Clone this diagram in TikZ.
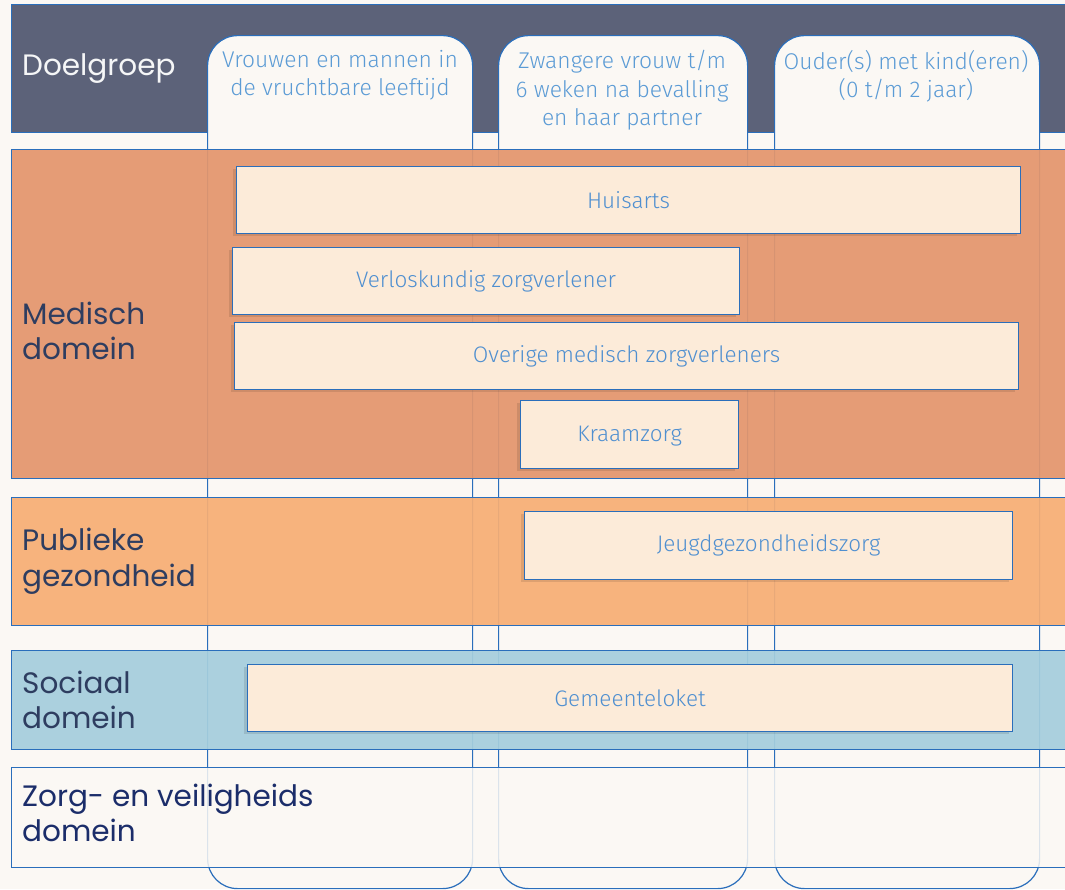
\documentclass[tikz,border=0pt]{standalone}
\usepackage{fontspec}
\setmainfont{Poppins}
\newfontfamily\lightfont{Fira Sans Light}
\usetikzlibrary{shadows}
\definecolor{bgc}{HTML}{FBF8F4}
\definecolor{slate}{HTML}{5C6279}
\definecolor{medc}{HTML}{E4966D}
\definecolor{pubc}{HTML}{F7AE74}
\definecolor{socc}{HTML}{A5CEDD}
\definecolor{boxc}{HTML}{FCEBD9}
\definecolor{edge}{HTML}{2A6EBB}
\definecolor{rowtxt}{HTML}{2E3D60}
\definecolor{zorgtxt}{HTML}{1B2D6A}
\definecolor{coltxt}{HTML}{5B9BD5}
\definecolor{boxtxt}{HTML}{4F8FD0}
\tikzset{
  band/.style={draw=edge, line width=1.2pt, anchor=north west, inner sep=0pt, minimum width=1070pt},
  colbox/.style={draw=edge, line width=1.2pt, fill=bgc, anchor=north west, inner sep=0pt, rounded corners=30pt, minimum height=853pt},
  rowlabel/.style={anchor=west, align=left, font=\fontsize{29.5}{35.5}\selectfont, inner sep=0pt},
  colhead/.style={anchor=north, align=center, text=coltxt, font=\lightfont\fontsize{22.8}{28.5}\selectfont, inner sep=0pt},
  item/.style={draw=edge, line width=1.2pt, fill=boxc, anchor=north west, inner sep=0pt,
    drop shadow={shadow xshift=-4pt, shadow yshift=-2pt, opacity=0.1, fill=black}},
  itemtext/.style={text=boxtxt, font=\lightfont\fontsize{22.5}{26}\selectfont, inner sep=0pt},
}
\begin{document}
\begin{tikzpicture}[x=1pt,y=-1pt]
\useasboundingbox (0,0) rectangle (1065,889);
\fill[bgc] (0,0) rectangle (1065,889);
\clip (0,0) rectangle (1065,889);
% header band
\node[band, fill=slate, minimum height=128pt] (hdr) at (11,4) {};
% columns
\node[colbox, minimum width=265pt] (c1) at (207,35) {};
\node[colbox, minimum width=249pt] (c2) at (498,35) {};
\node[colbox, minimum width=265pt] (c3) at (774,35) {};
% domain bands
\node[band, fill=medc, fill opacity=0.93, minimum height=329pt] (med) at (11,149) {};
\node[band, fill=pubc, fill opacity=0.93, minimum height=128pt] (pub) at (11,497) {};
\node[band, fill=socc, fill opacity=0.93, minimum height=99pt] (soc) at (11,650) {};
\node[band, fill=bgc, fill opacity=0.85, minimum height=100pt] (zorg) at (11,767) {};
% items
\node[item, minimum width=784pt, minimum height=67pt] (huis) at (236,166) {};
\node[item, minimum width=507pt, minimum height=67pt] (verl) at (232,247) {};
\node[item, minimum width=784pt, minimum height=67pt] (over) at (234,322) {};
\node[item, minimum width=218pt, minimum height=68pt] (kraam) at (520,400) {};
\node[item, minimum width=488pt, minimum height=68pt] (jgz) at (524,511) {};
\node[item, minimum width=765pt, minimum height=67pt] (gem) at (247,664) {};
\node[itemtext] (t1) at (huis.center) {Huisarts};
\node[itemtext] (t2) at (verl.center) {Verloskundig zorgverlener};
\node[itemtext] (t3) at (over.center) {Overige medisch zorgverleners};
\node[itemtext] (t4) at ([yshift=-1.5pt]kraam.center) {Kraamzorg};
\node[itemtext] (t5) at (jgz.center) {Jeugdgezondheidszorg};
\node[itemtext] (t6) at (gem.center) {Gemeenteloket};
% column headers
\node[colhead] (h1) at (340,50) {Vrouwen en mannen in\\de vruchtbare leeftijd};
\node[colhead] (h2) at (622,50) {Zwangere vrouw t/m\\6 weken na bevalling\\en haar partner};
\node[colhead] (h3) at (906,50) {Ouder(s) met kind(eren)\\(0 t/m 2 jaar)};
% row labels
\node[rowlabel, text=white!94!slate] (l0) at (22,69) {Doelgroep};
\node[rowlabel, text=rowtxt] (l1) at (22,331) {Medisch\\domein};
\node[rowlabel, text=rowtxt] (l2) at (22,561) {Publieke\\gezondheid};
\node[rowlabel, text=rowtxt] (l3) at (22,700) {Sociaal\\domein};
\node[rowlabel, text=zorgtxt] (l4) at (22,813) {Zorg- en veiligheids\\domein};
\end{tikzpicture}
\end{document}
